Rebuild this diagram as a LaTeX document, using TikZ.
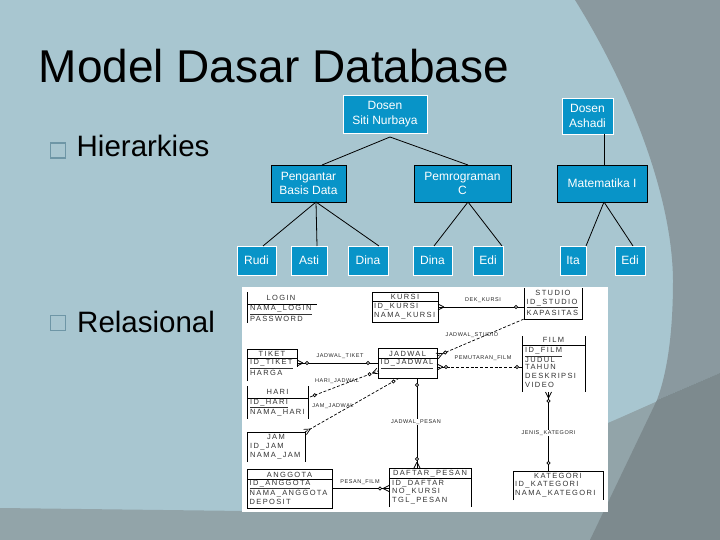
\documentclass[tikz,border=0pt]{standalone}
\usepackage{fontspec}
\setmainfont{Liberation Sans}
\newfontfamily\erfont[LetterSpace=18]{Liberation Sans}
\newfontfamily\relfont[LetterSpace=10]{Liberation Sans}
\usetikzlibrary{calc}
\definecolor{bg}{RGB}{168,198,208}
\definecolor{darkA}{RGB}{138,153,159}
\definecolor{darkB}{RGB}{125,138,142}
\definecolor{band}{RGB}{146,164,169}
\definecolor{boxblue}{RGB}{8,148,200}
\definecolor{bullet}{RGB}{110,150,166}
\tikzset{
  tbl/.style={inner sep=0pt, outer sep=0pt, draw=none},
  erl/.style={line width=0.7pt, draw=black},
  erdash/.style={erl, dash pattern=on 3pt off 1.8pt},
  hd/.style={font=\erfont\fontsize{7.5}{8}\selectfont, text=black!80, inner sep=0pt},
  attr/.style={hd, anchor=west},
  rl/.style={font=\relfont\fontsize{5.5}{6}\selectfont, text=black!85, inner sep=0.6pt},
  hb/.style={fill=boxblue, text=white, font=\fontsize{12}{14.5}\selectfont, align=center, inner sep=0pt, outer sep=0pt, line width=0.9pt},
  hl/.style={line width=0.8pt, black},
  bul/.style={draw=bullet, line width=1.4pt, minimum size=15, inner sep=0pt},
}
\newcommand\crowat[2]{%
  \draw[erl] ($(#1)!6pt!(#2)$) -- ($(#1)!3pt!90:(#2)$)
             ($(#1)!6pt!(#2)$) -- ($(#1)!3pt!-90:(#2)$);}
\newcommand\circat[3]{%
  \draw[erl, fill=white] ($(#1)!#3!(#2)$) circle[radius=1.6pt];}
\begin{document}
\begin{tikzpicture}[x=1pt,y=-1pt]
\useasboundingbox (0,0) rectangle (720,540);
% background
\fill[bg] (0,0) rectangle (720,540);
\fill[band] (0,508) -- (245,511) .. controls (420,510) and (570,440) .. (660,400) -- (720,373) -- (720,540) -- (0,540) -- cycle;
\fill[darkA] (575,0) .. controls (625,80) and (672,190) .. (673,280) .. controls (673,330) and (668,370) .. (657,400) -- (720,373) -- (720,0) -- cycle;
\fill[darkB] (657,400) -- (720,373) -- (720,540) -- (590,540) -- cycle;

% title and bullets
\node[anchor=base, font=\fontsize{46}{50}\selectfont, inner sep=0pt] (title) at (274,83) {Model Dasar Database};
\node[bul] (b1) at (58,150.5) {};
\node[anchor=base west, font=\fontsize{29.5}{32}\selectfont, inner sep=0pt] (hier) at (76.5,157) {Hierarkies};
\node[bul] (b2) at (58,323) {};
\node[anchor=base west, font=\fontsize{29.5}{32}\selectfont, inner sep=0pt] (rel) at (77,332) {Relasional};

% hierarchy
\node[hb, draw=white, minimum width=84, minimum height=38] (ds) at (385,114) {Dosen\\Siti Nurbaya};
\node[hb, draw=white, minimum width=51, minimum height=36] (da) at (587.5,116) {Dosen\\Ashadi};
\node[hb, draw=black, minimum width=75, minimum height=37] (pbd) at (308.5,183.5) {Pengantar\\Basis Data};
\node[hb, draw=black, minimum width=97, minimum height=37] (pc) at (462.5,183.5) {Pemrograman\\C};
\node[hb, draw=black, minimum width=90, minimum height=37] (mat) at (602,183.5) {Matematika I};
\node[hb, draw=white, minimum width=39, minimum height=29] (rudi) at (256.5,260.5) {Rudi};
\node[hb, draw=white, minimum width=36, minimum height=29] (asti) at (309,260.5) {Asti};
\node[hb, draw=white, minimum width=40, minimum height=29] (dina1) at (368,260.5) {Dina};
\node[hb, draw=white, minimum width=39, minimum height=29] (dina2) at (432.5,260.5) {Dina};
\node[hb, draw=white, minimum width=30, minimum height=29] (edi1) at (488,260.5) {Edi};
\node[hb, draw=white, minimum width=26, minimum height=29] (ita) at (573,260.5) {Ita};
\node[hb, draw=white, minimum width=30, minimum height=29] (edi2) at (630,260.5) {Edi};
\coordinate (dsj) at ($(ds.south)+(5,4)$);
\coordinate (pbdj) at ($(pbd.south)+(7.5,0)$);
\coordinate (pcj) at ($(pc.south)+(5.5,0)$);
\coordinate (matj) at ($(mat.south)+(2,0)$);
\draw[hl] (dsj) -- ($(pbd.north)+(13.5,0)$);
\draw[hl] (dsj) -- ($(pc.north)+(5.5,0)$);
\draw[hl] ($(da.south)+(16.5,0)$) -- ($(mat.north)+(2,0)$);
\draw[hl] (pbdj) -- ($(rudi.north)+(6.5,0)$);
\draw[hl] (pbdj) -- ($(asti.north)+(8,0)$);
\draw[hl] (pbdj) -- ($(dina1.north)+(11,0)$);
\draw[hl] (pcj) -- ($(dina2.north)+(1.5,0)$);
\draw[hl] (pcj) -- ($(edi1.north)+(14,0)$);
\draw[hl] (matj) -- ($(ita.north)+(13,0)$);
\draw[hl] (matj) -- ($(edi2.north)+(3,0)$);

% ER diagram
\fill[white] (242,287) rectangle (608,512);
\node[tbl, minimum width=70, minimum height=31] (login) at (282,307.5) {};
\node[tbl, minimum width=66, minimum height=30] (kursi) at (405,307) {};
\node[tbl, minimum width=58, minimum height=31] (studio) at (553,303.5) {};
\node[tbl, minimum width=50, minimum height=32] (tiket) at (272,365) {};
\node[tbl, minimum width=61, minimum height=33] (hari) at (277.5,402.5) {};
\node[tbl, minimum width=58, minimum height=30] (jam) at (276,447) {};
\node[tbl, minimum width=85, minimum height=39] (anggota) at (289.5,488.5) {};
\node[tbl, minimum width=59, minimum height=30] (jadwal) at (407.5,363) {};
\node[tbl, minimum width=82, minimum height=39] (daftar) at (430,487.5) {};
\node[tbl, minimum width=63, minimum height=56] (film) at (553.5,364) {};
\node[tbl, minimum width=90, minimum height=29] (kategori) at (558,485.5) {};

% LOGIN
\draw[erl] (login.north west) -- (login.south west);
\draw[erl] ($(login.north west)+(0,12)$) -- ($(login.north east)+(0,12)$);
\node[hd] (loginH) at (281,298) {LOGIN};
\node[attr] (loginA1) at (250,310) {\underline{NAMA\_LOGIN}};
\node[attr] (loginA2) at (250,319) {PASSWORD};
% KURSI
\draw[erl] (kursi.north west) rectangle (kursi.south east);
\draw[erl] ($(kursi.north west)+(0,9)$) -- ($(kursi.north east)+(0,9)$);
\node[hd] (kursiH) at (405,296.5) {KURSI};
\node[attr] (kursiA1) at (374,307) {ID\_KURSI};
\node[attr] (kursiA2) at (374,315.5) {NAMA\_KURSI};
% STUDIO
\draw[erl] (studio.north west) -- (studio.south west) -- (studio.south east) -- (studio.north east);
\node[hd] (studioH) at (553,293) {STUDIO};
\node[attr] (studioA1) at (526.5,303.5) {\underline{ID\_STUDIO}};
\node[attr] (studioA2) at (526.5,313) {KAPASITAS};
% TIKET
\draw[erl] (tiket.south west) -- (tiket.north west) -- (tiket.north east) -- ($(tiket.north east)+(0,18)$);
\draw[erl] ($(tiket.north west)+(0,9)$) -- ($(tiket.north east)+(0,9)$);
\node[hd] (tiketH) at (272,353.5) {TIKET};
\node[attr] (tiketA1) at (250,364) {\underline{ID\_TIKET}};
\node[attr] (tiketA2) at (250,373) {HARGA};
% HARI
\draw[erl] (hari.north west) -- (hari.south west);
\draw[erl] (hari.north east) -- (hari.south east);
\draw[erl] ($(hari.north west)+(0,12)$) -- ($(hari.north east)+(0,12)$);
\node[hd] (hariH) at (277.5,392) {HARI};
\node[attr] (hariA1) at (250,403.5) {\underline{ID\_HARI}};
\node[attr] (hariA2) at (250,412.5) {NAMA\_HARI};
% JAM
\draw[erl] (jam.south west) -- (jam.north west) -- (jam.north east) -- (jam.south east);
\node[hd] (jamH) at (276,437) {JAM};
\node[attr] (jamA1) at (250,446.5) {ID\_JAM};
\node[attr] (jamA2) at (250,455.5) {NAMA\_JAM};
% ANGGOTA
\draw[erl] (anggota.north west) rectangle (anggota.south east);
\draw[erl] ($(anggota.north west)+(0,10)$) -- ($(anggota.north east)+(0,10)$);
\node[hd] (anggotaH) at (289.5,474.5) {ANGGOTA};
\node[attr] (anggotaA1) at (249.5,484.5) {\underline{ID\_ANGGOTA}};
\node[attr] (anggotaA2) at (249.5,493.5) {NAMA\_ANGGOTA};
\node[attr] (anggotaA3) at (249.5,502) {DEPOSIT};
% JADWAL
\draw[erl] (jadwal.north west) rectangle (jadwal.south east);
\draw[erl] ($(jadwal.north west)+(0,10)$) -- ($(jadwal.north east)+(0,10)$);
\node[hd] (jadwalH) at (407.5,353.5) {JADWAL};
\node[attr] (jadwalA1) at (380.5,364) {\underline{ID\_JADWAL}};
% DAFTAR_PESAN
\draw[erl] (daftar.south west) -- (daftar.north west) -- (daftar.north east) -- (daftar.south east);
\draw[erl] ($(daftar.north west)+(0,10)$) -- ($(daftar.north east)+(0,10)$);
\node[hd] (daftarH) at (430,473.5) {DAFTAR\_PESAN};
\node[attr] (daftarA1) at (392,483.5) {ID\_DAFTAR};
\node[attr] (daftarA2) at (392,492) {NO\_KURSI};
\node[attr] (daftarA3) at (392,500.5) {TGL\_PESAN};
% FILM
\draw[erl] (film.north west) -- (film.south west);
\draw[erl] (film.north east) -- (film.south east);
\draw[erl] ($(film.north west)+(0,9)$) -- ($(film.north east)+(0,9)$);
\node[hd] (filmH) at (553.5,340) {FILM};
\node[attr] (filmA1) at (525,352) {\underline{ID\_FILM}};
\node[attr] (filmA2) at (525,359.5) {JUDUL};
\node[attr] (filmA3) at (525,367) {TAHUN};
\node[attr] (filmA4) at (525,375.5) {DESKRIPSI};
\node[attr] (filmA5) at (525,384.5) {VIDEO};
% KATEGORI
\draw[erl] (kategori.south west) -- (kategori.north west) -- (kategori.north east) -- (kategori.south east);
\node[hd] (kategoriH) at (558,476) {KATEGORI};
\node[attr] (kategoriA1) at (515,485) {ID\_KATEGORI};
\node[attr] (kategoriA2) at (515,494) {NAMA\_KATEGORI};

% relationships
\coordinate (r1a) at (kursi.east);
\coordinate (r1b) at (kursi.east -| studio.west);
\draw[erl] (r1a) -- (r1b);
\crowat{r1a}{r1b}
\circat{r1b}{r1a}{8pt}
\node[rl] (r1l) at (483,300) {DEK\_KURSI};

\coordinate (r2a) at (tiket.east |- jadwal.west);
\coordinate (r2b) at (jadwal.west);
\draw[erl] (r2a) -- (r2b);
\crowat{r2a}{r2b}
\circat{r2a}{r2b}{10pt}
\circat{r2b}{r2a}{10pt}
\node[rl] (r2l) at (340,356.5) {JADWAL\_TIKET};

\coordinate (r3a) at ($(hari.north east)+(2,11)$);
\coordinate (r3b) at ($(jadwal.south west)+(0,-7)$);
\draw[erdash] (r3a) -- (r3b);
\circat{r3a}{r3b}{5pt}
\crowat{r3b}{r3a}
\circat{r3b}{r3a}{9pt}
\node[rl] (r3l) at (337,381.5) {HARI\_JADWAL};

\coordinate (r4a) at (jam.north east);
\coordinate (r4b) at ($(jadwal.south)+(-8,0)$);
\draw[erdash] (r4a) -- (r4b);
\crowat{r4a}{r4b}
\circat{r4b}{r4a}{7pt}
\node[rl] (r4l) at (333,406) {JAM\_JADWAL};

\coordinate (r5a) at ($(jadwal.north east)+(0,8)$);
\coordinate (r5b) at (studio.south west);
\draw[erdash] (r5a) -- (r5b);
\crowat{r5a}{r5b}
\circat{r5a}{r5b}{9pt}
\node[rl] (r5l) at (472,335) {JADWAL\_STUDIO};

\coordinate (r6a) at ($(jadwal.east)+(0,4)$);
\coordinate (r6b) at (r6a -| film.west);
\draw[erdash] (r6a) -- (r6b);
\crowat{r6a}{r6b}
\circat{r6a}{r6b}{9pt}
\circat{r6b}{r6a}{5pt}
\node[rl] (r6l) at (483,358.5) {PEMUTARAN\_FILM};

\coordinate (r7a) at ($(jadwal.south)+(9.5,0)$);
\coordinate (r7b) at (r7a |- daftar.north);
\draw[erl] (r7a) -- (r7b);
\circat{r7a}{r7b}{7pt}
\crowat{r7b}{r7a}
\circat{r7b}{r7a}{9pt}
\node[rl, fill=white] (r7l) at (416,422) {JADWAL\_PESAN};

\coordinate (r8a) at ($(film.south)+(-5,0)$);
\coordinate (r8b) at (r8a |- kategori.north);
\draw[erl] (r8a) -- (r8b);
\crowat{r8a}{r8b}
\circat{r8a}{r8b}{9pt}
\circat{r8b}{r8a}{8pt}
\node[rl, fill=white] (r8l) at (548.5,433) {JENIS\_KATEGORI};

\coordinate (r9a) at (anggota.east);
\coordinate (r9b) at (r9a -| daftar.west);
\draw[erl] (r9a) -- (r9b);
\crowat{r9b}{r9a}
\circat{r9b}{r9a}{9pt}
\node[rl] (r9l) at (360,482.5) {PESAN\_FILM};
\end{tikzpicture}
\end{document}
